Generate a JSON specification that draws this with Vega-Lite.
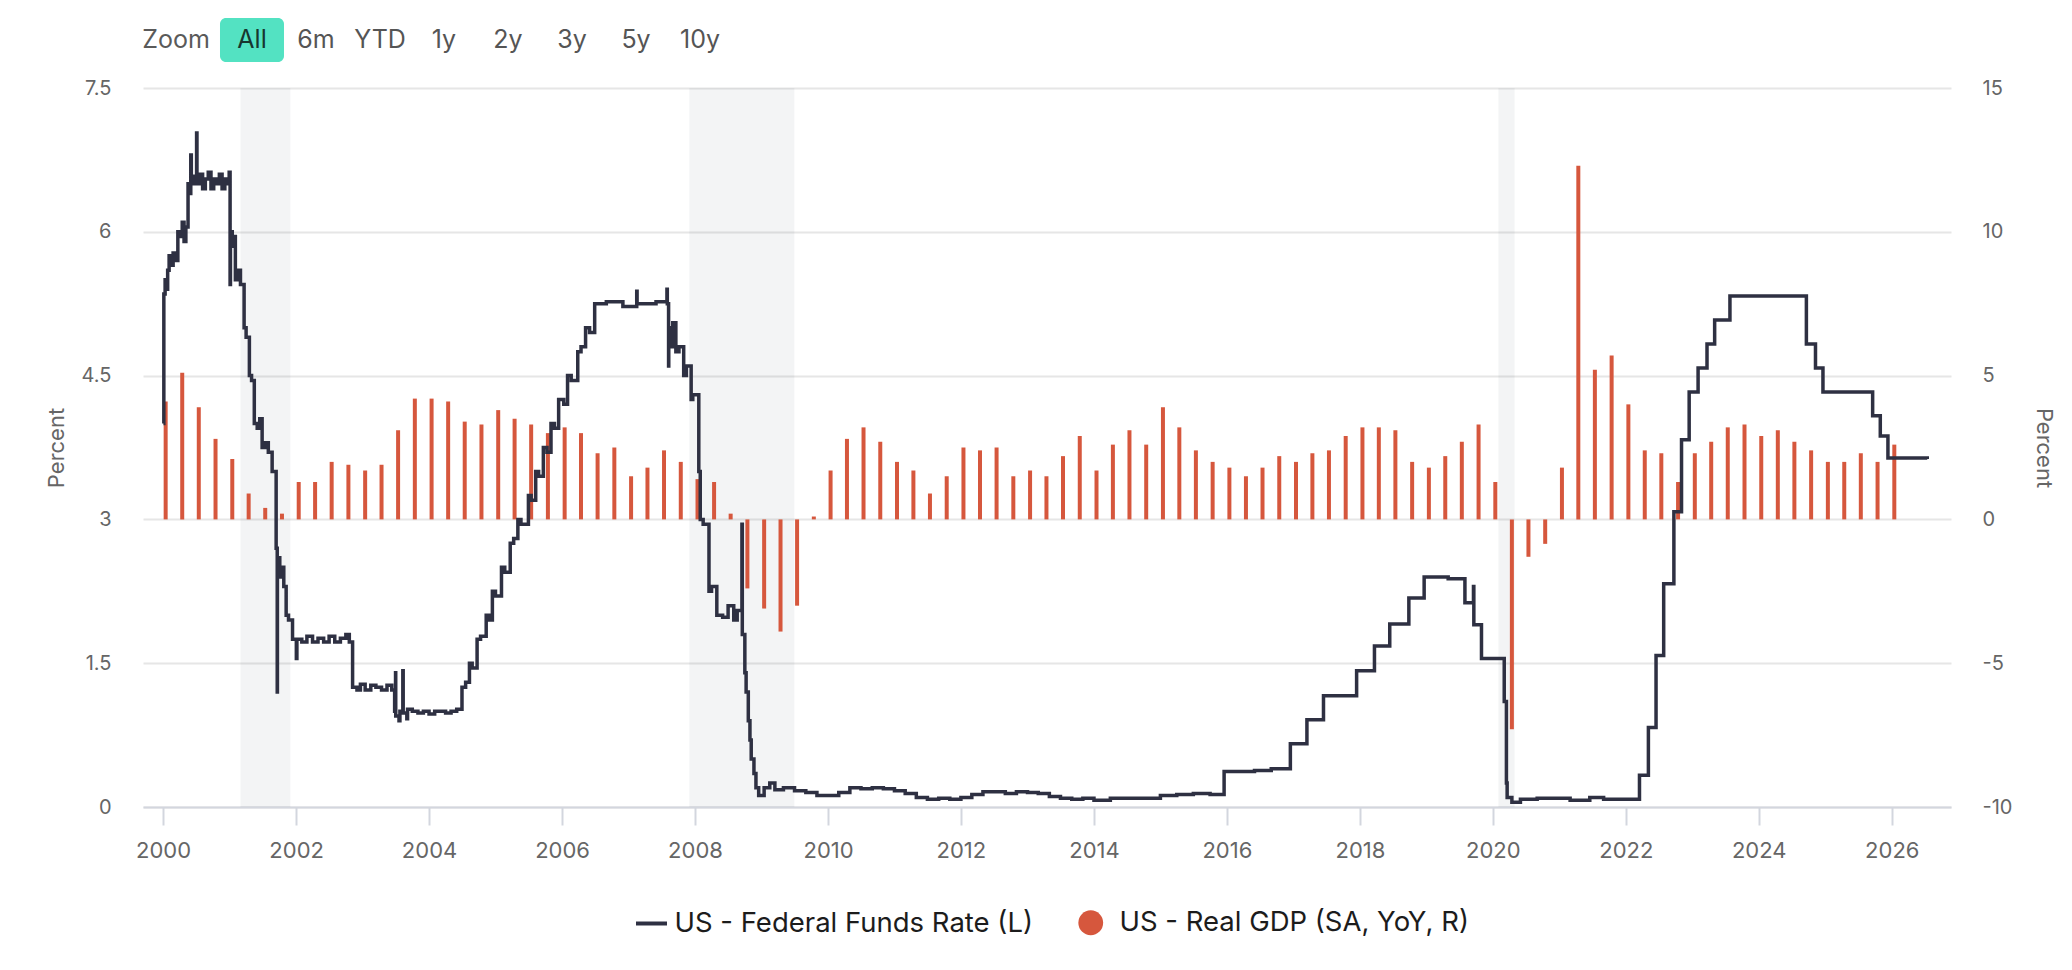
{
  "$schema": "https://vega.github.io/schema/vega-lite/v6.json",
  "padding": {"left": 45, "top": 18, "right": 10, "bottom": 5},
  "bounds": "flush",
  "spacing": 26,
  "resolve": {"scale": {"color": "independent", "fill": "independent", "stroke": "independent"}},
  "config": {
    "font": "Inter",
    "view": {"stroke": null},
    "axis": {"labelColor": "#666666", "titleColor": "#666666", "titleFontWeight": "normal", "labelFont": "Inter", "titleFont": "Inter"},
    "legend": {"labelFont": "Inter", "labelFontSize": 27.5, "labelColor": "#1c1c1c", "labelLimit": 600, "labelOffset": 15, "symbolSize": 615, "title": null}
  },
  "vconcat": [
    {
      "width": 602,
      "height": 44,
      "data": {
        "values": [
          {"label": "Zoom"}, {"label": "All"}, {"label": "6m"}, {"label": "YTD"},
          {"label": "1y"}, {"label": "2y"}, {"label": "3y"}, {"label": "5y"}, {"label": "10y"}
        ]
      },
      "encoding": {
        "x": {
          "field": "label",
          "type": "nominal",
          "sort": null,
          "scale": {"domain": ["Zoom", "All", "6m", "YTD", "1y", "2y", "3y", "5y", "10y"], "paddingInner": 0, "paddingOuter": 0.203},
          "axis": null
        }
      },
      "layer": [
        {
          "transform": [{"filter": "datum.label === 'All'"}],
          "mark": {"type": "rect", "color": "#53e2c2", "cornerRadius": 6}
        },
        {
          "transform": [{"filter": "datum.label === 'Zoom'"}],
          "mark": {"type": "text", "fontSize": 25, "font": "Inter", "dx": -12, "color": "#5a5a5a"},
          "encoding": {"text": {"field": "label"}}
        },
        {
          "transform": [{"filter": "datum.label !== 'Zoom'"}],
          "mark": {"type": "text", "fontSize": 25, "font": "Inter"},
          "encoding": {
            "text": {"field": "label"},
            "color": {"condition": {"test": "datum.label === 'All'", "value": "#17362f"}, "value": "#555555"}
          }
        }
      ]
    },
    {
      "width": 1808,
      "height": 719,
      "layer": [
        {
          "data": {
            "values": [
              {"start": "2001-03-01", "end": "2001-11-30"},
              {"start": "2007-12-01", "end": "2009-06-30"},
              {"start": "2020-02-01", "end": "2020-04-30"}
            ]
          },
          "mark": {"type": "rect", "color": "#1a2040", "opacity": 0.05},
          "encoding": {
            "x": {
              "field": "start",
              "type": "temporal",
              "scale": {"domain": ["1999-10-10", "2026-10-26"]},
              "axis": {
                "format": "%Y",
                "tickCount": {"interval": "year", "step": 2},
                "grid": false,
                "title": null,
                "domainColor": "#d3d6de",
                "domainWidth": 2,
                "tickColor": "#d3d6de",
                "tickWidth": 2,
                "tickSize": 18,
                "labelPadding": 15,
                "labelFontSize": 22,
                "labelFlush": false,
                "labelOverlap": false
              }
            },
            "x2": {"field": "end"}
          }
        },
        {
          "data": {
            "values": [
              {"date": "2000-01-15", "gdp": 4.1}, {"date": "2000-04-15", "gdp": 5.1}, {"date": "2000-07-15", "gdp": 3.9}, {"date": "2000-10-15", "gdp": 2.8},
              {"date": "2001-01-15", "gdp": 2.1}, {"date": "2001-04-15", "gdp": 0.9}, {"date": "2001-07-15", "gdp": 0.4}, {"date": "2001-10-15", "gdp": 0.2},
              {"date": "2002-01-15", "gdp": 1.3}, {"date": "2002-04-15", "gdp": 1.3}, {"date": "2002-07-15", "gdp": 2.0}, {"date": "2002-10-15", "gdp": 1.9},
              {"date": "2003-01-15", "gdp": 1.7}, {"date": "2003-04-15", "gdp": 1.9}, {"date": "2003-07-15", "gdp": 3.1}, {"date": "2003-10-15", "gdp": 4.2},
              {"date": "2004-01-15", "gdp": 4.2}, {"date": "2004-04-15", "gdp": 4.1}, {"date": "2004-07-15", "gdp": 3.4}, {"date": "2004-10-15", "gdp": 3.3},
              {"date": "2005-01-15", "gdp": 3.8}, {"date": "2005-04-15", "gdp": 3.5}, {"date": "2005-07-15", "gdp": 3.3}, {"date": "2005-10-15", "gdp": 3.0},
              {"date": "2006-01-15", "gdp": 3.2}, {"date": "2006-04-15", "gdp": 3.0}, {"date": "2006-07-15", "gdp": 2.3}, {"date": "2006-10-15", "gdp": 2.5},
              {"date": "2007-01-15", "gdp": 1.5}, {"date": "2007-04-15", "gdp": 1.8}, {"date": "2007-07-15", "gdp": 2.4}, {"date": "2007-10-15", "gdp": 2.0},
              {"date": "2008-01-15", "gdp": 1.4}, {"date": "2008-04-15", "gdp": 1.3}, {"date": "2008-07-15", "gdp": 0.2}, {"date": "2008-10-15", "gdp": -2.4},
              {"date": "2009-01-15", "gdp": -3.1}, {"date": "2009-04-15", "gdp": -3.9}, {"date": "2009-07-15", "gdp": -3.0}, {"date": "2009-10-15", "gdp": 0.1},
              {"date": "2010-01-15", "gdp": 1.7}, {"date": "2010-04-15", "gdp": 2.8}, {"date": "2010-07-15", "gdp": 3.2}, {"date": "2010-10-15", "gdp": 2.7},
              {"date": "2011-01-15", "gdp": 2.0}, {"date": "2011-04-15", "gdp": 1.7}, {"date": "2011-07-15", "gdp": 0.9}, {"date": "2011-10-15", "gdp": 1.5},
              {"date": "2012-01-15", "gdp": 2.5}, {"date": "2012-04-15", "gdp": 2.4}, {"date": "2012-07-15", "gdp": 2.5}, {"date": "2012-10-15", "gdp": 1.5},
              {"date": "2013-01-15", "gdp": 1.7}, {"date": "2013-04-15", "gdp": 1.5}, {"date": "2013-07-15", "gdp": 2.2}, {"date": "2013-10-15", "gdp": 2.9},
              {"date": "2014-01-15", "gdp": 1.7}, {"date": "2014-04-15", "gdp": 2.6}, {"date": "2014-07-15", "gdp": 3.1}, {"date": "2014-10-15", "gdp": 2.6},
              {"date": "2015-01-15", "gdp": 3.9}, {"date": "2015-04-15", "gdp": 3.2}, {"date": "2015-07-15", "gdp": 2.4}, {"date": "2015-10-15", "gdp": 2.0},
              {"date": "2016-01-15", "gdp": 1.8}, {"date": "2016-04-15", "gdp": 1.5}, {"date": "2016-07-15", "gdp": 1.8}, {"date": "2016-10-15", "gdp": 2.2},
              {"date": "2017-01-15", "gdp": 2.0}, {"date": "2017-04-15", "gdp": 2.3}, {"date": "2017-07-15", "gdp": 2.4}, {"date": "2017-10-15", "gdp": 2.9},
              {"date": "2018-01-15", "gdp": 3.2}, {"date": "2018-04-15", "gdp": 3.2}, {"date": "2018-07-15", "gdp": 3.1}, {"date": "2018-10-15", "gdp": 2.0},
              {"date": "2019-01-15", "gdp": 1.8}, {"date": "2019-04-15", "gdp": 2.2}, {"date": "2019-07-15", "gdp": 2.7}, {"date": "2019-10-15", "gdp": 3.3},
              {"date": "2020-01-15", "gdp": 1.3}, {"date": "2020-04-15", "gdp": -7.3}, {"date": "2020-07-15", "gdp": -1.3}, {"date": "2020-10-15", "gdp": -0.85},
              {"date": "2021-01-15", "gdp": 1.8}, {"date": "2021-04-15", "gdp": 12.3}, {"date": "2021-07-15", "gdp": 5.2}, {"date": "2021-10-15", "gdp": 5.7},
              {"date": "2022-01-15", "gdp": 4.0}, {"date": "2022-04-15", "gdp": 2.4}, {"date": "2022-07-15", "gdp": 2.3}, {"date": "2022-10-15", "gdp": 1.3},
              {"date": "2023-01-15", "gdp": 2.3}, {"date": "2023-04-15", "gdp": 2.7}, {"date": "2023-07-15", "gdp": 3.2}, {"date": "2023-10-15", "gdp": 3.3},
              {"date": "2024-01-15", "gdp": 2.9}, {"date": "2024-04-15", "gdp": 3.1}, {"date": "2024-07-15", "gdp": 2.7}, {"date": "2024-10-15", "gdp": 2.4},
              {"date": "2025-01-15", "gdp": 2.0}, {"date": "2025-04-15", "gdp": 2.0}, {"date": "2025-07-15", "gdp": 2.3}, {"date": "2025-10-15", "gdp": 2.0},
              {"date": "2026-01-15", "gdp": 2.6}
            ]
          },
          "mark": {"type": "bar", "width": 4},
          "encoding": {
            "x": {"field": "date", "type": "temporal"},
            "y": {
              "field": "gdp",
              "type": "quantitative",
              "scale": {"domain": [-10, 15], "nice": false},
              "axis": {
                "orient": "right",
                "values": [-10, -5, 0, 5, 10, 15],
                "labelExpr": "'' + datum.value",
                "title": "Percent",
                "grid": false,
                "domain": false,
                "ticks": false,
                "tickSize": 0,
                "labelPadding": 31,
                "labelFontSize": 20,
                "titleFontSize": 22,
                "minExtent": 60,
                "maxExtent": 60,
                "titlePadding": 20
              }
            },
            "fill": {
              "datum": "US - Real GDP (SA, YoY, R)",
              "scale": {"range": ["#d6573d"]},
              "legend": {
                "orient": "none",
                "legendX": 934,
                "legendY": 821,
                "symbolType": "circle",
                "symbolFillColor": "#e5573b"
              }
            }
          }
        },
        {
          "data": {
            "values": [
              {"date": "2000-01-03", "rate": 4.0}, {"date": "2000-01-05", "rate": 5.35}, {"date": "2000-01-12", "rate": 5.5}, {"date": "2000-01-19", "rate": 5.4},
              {"date": "2000-01-26", "rate": 5.6}, {"date": "2000-02-03", "rate": 5.75}, {"date": "2000-02-15", "rate": 5.65}, {"date": "2000-02-25", "rate": 5.78},
              {"date": "2000-03-10", "rate": 5.7}, {"date": "2000-03-22", "rate": 6.0}, {"date": "2000-04-05", "rate": 5.95}, {"date": "2000-04-15", "rate": 6.1},
              {"date": "2000-04-25", "rate": 5.9}, {"date": "2000-05-05", "rate": 6.05}, {"date": "2000-05-17", "rate": 6.5}, {"date": "2000-05-25", "rate": 6.4},
              {"date": "2000-06-01", "rate": 6.8}, {"date": "2000-06-04", "rate": 6.5}, {"date": "2000-06-20", "rate": 6.58}, {"date": "2000-07-03", "rate": 7.03},
              {"date": "2000-07-05", "rate": 6.5}, {"date": "2000-07-20", "rate": 6.6}, {"date": "2000-08-05", "rate": 6.45}, {"date": "2000-08-20", "rate": 6.55},
              {"date": "2000-09-05", "rate": 6.62}, {"date": "2000-09-20", "rate": 6.45}, {"date": "2000-10-05", "rate": 6.55}, {"date": "2000-10-20", "rate": 6.5},
              {"date": "2000-11-05", "rate": 6.6}, {"date": "2000-11-20", "rate": 6.45}, {"date": "2000-12-05", "rate": 6.55}, {"date": "2000-12-20", "rate": 6.5},
              {"date": "2000-12-29", "rate": 6.62}, {"date": "2001-01-03", "rate": 5.45}, {"date": "2001-01-05", "rate": 6.0}, {"date": "2001-01-15", "rate": 5.85},
              {"date": "2001-01-25", "rate": 5.95}, {"date": "2001-02-01", "rate": 5.5}, {"date": "2001-02-15", "rate": 5.6}, {"date": "2001-03-01", "rate": 5.45},
              {"date": "2001-03-21", "rate": 5.0}, {"date": "2001-04-01", "rate": 4.9}, {"date": "2001-04-19", "rate": 4.5}, {"date": "2001-05-01", "rate": 4.45},
              {"date": "2001-05-16", "rate": 4.0}, {"date": "2001-06-01", "rate": 3.95}, {"date": "2001-06-15", "rate": 4.05}, {"date": "2001-06-28", "rate": 3.75},
              {"date": "2001-07-15", "rate": 3.8}, {"date": "2001-08-01", "rate": 3.7}, {"date": "2001-08-22", "rate": 3.5}, {"date": "2001-09-13", "rate": 2.7},
              {"date": "2001-09-19", "rate": 1.2}, {"date": "2001-09-20", "rate": 2.6}, {"date": "2001-10-03", "rate": 2.4}, {"date": "2001-10-15", "rate": 2.5},
              {"date": "2001-10-25", "rate": 2.3}, {"date": "2001-11-07", "rate": 2.0}, {"date": "2001-11-20", "rate": 1.95}, {"date": "2001-12-12", "rate": 1.75},
              {"date": "2002-01-02", "rate": 1.55}, {"date": "2002-01-05", "rate": 1.75}, {"date": "2002-02-01", "rate": 1.72}, {"date": "2002-03-01", "rate": 1.78},
              {"date": "2002-04-01", "rate": 1.72}, {"date": "2002-05-01", "rate": 1.76}, {"date": "2002-06-01", "rate": 1.72}, {"date": "2002-07-01", "rate": 1.78},
              {"date": "2002-08-01", "rate": 1.72}, {"date": "2002-09-01", "rate": 1.76}, {"date": "2002-10-01", "rate": 1.8}, {"date": "2002-10-20", "rate": 1.72},
              {"date": "2002-11-07", "rate": 1.25}, {"date": "2002-12-01", "rate": 1.22}, {"date": "2002-12-20", "rate": 1.28}, {"date": "2003-01-15", "rate": 1.22},
              {"date": "2003-02-15", "rate": 1.27}, {"date": "2003-03-15", "rate": 1.25}, {"date": "2003-04-15", "rate": 1.22}, {"date": "2003-05-15", "rate": 1.27},
              {"date": "2003-06-10", "rate": 1.22}, {"date": "2003-06-26", "rate": 1.0}, {"date": "2003-07-01", "rate": 1.4}, {"date": "2003-07-02", "rate": 0.95},
              {"date": "2003-07-20", "rate": 0.9}, {"date": "2003-07-25", "rate": 1.0}, {"date": "2003-08-10", "rate": 1.42}, {"date": "2003-08-12", "rate": 0.98},
              {"date": "2003-09-01", "rate": 0.92}, {"date": "2003-09-05", "rate": 1.02}, {"date": "2003-10-01", "rate": 1.0}, {"date": "2003-11-01", "rate": 0.98},
              {"date": "2003-12-01", "rate": 1.0}, {"date": "2004-01-01", "rate": 0.97}, {"date": "2004-02-01", "rate": 1.0}, {"date": "2004-03-01", "rate": 1.0},
              {"date": "2004-04-01", "rate": 0.98}, {"date": "2004-05-01", "rate": 1.0}, {"date": "2004-06-01", "rate": 1.02}, {"date": "2004-06-30", "rate": 1.25},
              {"date": "2004-07-20", "rate": 1.3}, {"date": "2004-08-10", "rate": 1.5}, {"date": "2004-08-25", "rate": 1.45}, {"date": "2004-09-21", "rate": 1.75},
              {"date": "2004-10-10", "rate": 1.78}, {"date": "2004-11-10", "rate": 2.0}, {"date": "2004-11-25", "rate": 1.95}, {"date": "2004-12-14", "rate": 2.25},
              {"date": "2004-12-31", "rate": 2.2}, {"date": "2005-02-02", "rate": 2.5}, {"date": "2005-02-20", "rate": 2.45}, {"date": "2005-03-22", "rate": 2.75},
              {"date": "2005-04-10", "rate": 2.8}, {"date": "2005-05-03", "rate": 3.0}, {"date": "2005-05-20", "rate": 2.95}, {"date": "2005-06-30", "rate": 3.25},
              {"date": "2005-07-15", "rate": 3.2}, {"date": "2005-08-09", "rate": 3.5}, {"date": "2005-08-25", "rate": 3.45}, {"date": "2005-09-20", "rate": 3.75},
              {"date": "2005-10-10", "rate": 3.7}, {"date": "2005-11-01", "rate": 4.0}, {"date": "2005-11-20", "rate": 3.95}, {"date": "2005-12-13", "rate": 4.25},
              {"date": "2006-01-10", "rate": 4.2}, {"date": "2006-01-31", "rate": 4.5}, {"date": "2006-02-20", "rate": 4.45}, {"date": "2006-03-28", "rate": 4.75},
              {"date": "2006-04-15", "rate": 4.8}, {"date": "2006-05-10", "rate": 5.0}, {"date": "2006-06-01", "rate": 4.95}, {"date": "2006-06-29", "rate": 5.25},
              {"date": "2006-09-01", "rate": 5.27}, {"date": "2006-12-01", "rate": 5.22}, {"date": "2007-02-15", "rate": 5.38}, {"date": "2007-02-17", "rate": 5.25},
              {"date": "2007-06-01", "rate": 5.27}, {"date": "2007-07-31", "rate": 5.4}, {"date": "2007-08-02", "rate": 5.25}, {"date": "2007-08-09", "rate": 4.6},
              {"date": "2007-08-10", "rate": 5.0}, {"date": "2007-08-20", "rate": 4.8}, {"date": "2007-09-01", "rate": 5.05}, {"date": "2007-09-18", "rate": 4.75},
              {"date": "2007-10-05", "rate": 4.8}, {"date": "2007-10-31", "rate": 4.5}, {"date": "2007-11-15", "rate": 4.6}, {"date": "2007-12-11", "rate": 4.25},
              {"date": "2007-12-20", "rate": 4.3}, {"date": "2008-01-22", "rate": 3.5}, {"date": "2008-01-30", "rate": 3.0}, {"date": "2008-02-15", "rate": 2.95},
              {"date": "2008-03-18", "rate": 2.25}, {"date": "2008-04-01", "rate": 2.3}, {"date": "2008-04-30", "rate": 2.0}, {"date": "2008-06-01", "rate": 1.98},
              {"date": "2008-07-01", "rate": 2.1}, {"date": "2008-08-01", "rate": 1.95}, {"date": "2008-08-20", "rate": 2.05}, {"date": "2008-09-15", "rate": 2.95},
              {"date": "2008-09-17", "rate": 1.8}, {"date": "2008-10-01", "rate": 1.4}, {"date": "2008-10-08", "rate": 1.2}, {"date": "2008-10-20", "rate": 0.9},
              {"date": "2008-10-29", "rate": 0.7}, {"date": "2008-11-05", "rate": 0.5}, {"date": "2008-11-20", "rate": 0.35}, {"date": "2008-12-01", "rate": 0.2},
              {"date": "2008-12-16", "rate": 0.12}, {"date": "2009-01-15", "rate": 0.2}, {"date": "2009-02-15", "rate": 0.25}, {"date": "2009-03-15", "rate": 0.18},
              {"date": "2009-05-01", "rate": 0.2}, {"date": "2009-07-01", "rate": 0.17}, {"date": "2009-09-01", "rate": 0.15}, {"date": "2009-11-01", "rate": 0.12},
              {"date": "2010-01-01", "rate": 0.12}, {"date": "2010-03-01", "rate": 0.15}, {"date": "2010-05-01", "rate": 0.2}, {"date": "2010-07-01", "rate": 0.19},
              {"date": "2010-09-01", "rate": 0.2}, {"date": "2010-11-01", "rate": 0.19}, {"date": "2011-01-01", "rate": 0.17}, {"date": "2011-03-01", "rate": 0.14},
              {"date": "2011-05-01", "rate": 0.1}, {"date": "2011-07-01", "rate": 0.08}, {"date": "2011-09-01", "rate": 0.09}, {"date": "2011-11-01", "rate": 0.08},
              {"date": "2012-01-01", "rate": 0.1}, {"date": "2012-03-01", "rate": 0.13}, {"date": "2012-05-01", "rate": 0.16}, {"date": "2012-07-01", "rate": 0.16},
              {"date": "2012-09-01", "rate": 0.14}, {"date": "2012-11-01", "rate": 0.16}, {"date": "2013-01-01", "rate": 0.15}, {"date": "2013-03-01", "rate": 0.14},
              {"date": "2013-05-01", "rate": 0.11}, {"date": "2013-07-01", "rate": 0.09}, {"date": "2013-09-01", "rate": 0.08}, {"date": "2013-11-01", "rate": 0.09},
              {"date": "2014-01-01", "rate": 0.07}, {"date": "2014-04-01", "rate": 0.09}, {"date": "2014-07-01", "rate": 0.09}, {"date": "2014-10-01", "rate": 0.09},
              {"date": "2015-01-01", "rate": 0.12}, {"date": "2015-04-01", "rate": 0.13}, {"date": "2015-07-01", "rate": 0.14}, {"date": "2015-10-01", "rate": 0.13},
              {"date": "2015-12-17", "rate": 0.37}, {"date": "2016-03-01", "rate": 0.37}, {"date": "2016-06-01", "rate": 0.38}, {"date": "2016-09-01", "rate": 0.4},
              {"date": "2016-12-15", "rate": 0.66}, {"date": "2017-03-16", "rate": 0.91}, {"date": "2017-06-15", "rate": 1.16}, {"date": "2017-12-14", "rate": 1.42},
              {"date": "2018-03-22", "rate": 1.68}, {"date": "2018-06-14", "rate": 1.91}, {"date": "2018-09-27", "rate": 2.18}, {"date": "2018-12-20", "rate": 2.4},
              {"date": "2019-05-01", "rate": 2.38}, {"date": "2019-08-01", "rate": 2.13}, {"date": "2019-09-17", "rate": 2.3}, {"date": "2019-09-19", "rate": 1.9},
              {"date": "2019-10-31", "rate": 1.55}, {"date": "2020-03-04", "rate": 1.1}, {"date": "2020-03-16", "rate": 0.25}, {"date": "2020-03-20", "rate": 0.1},
              {"date": "2020-04-15", "rate": 0.05}, {"date": "2020-06-01", "rate": 0.08}, {"date": "2020-09-01", "rate": 0.09}, {"date": "2021-01-01", "rate": 0.09},
              {"date": "2021-03-01", "rate": 0.07}, {"date": "2021-06-17", "rate": 0.1}, {"date": "2021-09-01", "rate": 0.08}, {"date": "2022-01-01", "rate": 0.08},
              {"date": "2022-03-17", "rate": 0.33}, {"date": "2022-05-05", "rate": 0.83}, {"date": "2022-06-16", "rate": 1.58}, {"date": "2022-07-28", "rate": 2.33},
              {"date": "2022-09-22", "rate": 3.08}, {"date": "2022-11-03", "rate": 3.83}, {"date": "2022-12-15", "rate": 4.33}, {"date": "2023-02-02", "rate": 4.58},
              {"date": "2023-03-23", "rate": 4.83}, {"date": "2023-05-04", "rate": 5.08}, {"date": "2023-07-27", "rate": 5.33}, {"date": "2024-09-19", "rate": 4.83},
              {"date": "2024-11-08", "rate": 4.58}, {"date": "2024-12-19", "rate": 4.33}, {"date": "2025-09-18", "rate": 4.08}, {"date": "2025-10-30", "rate": 3.87},
              {"date": "2025-12-11", "rate": 3.64}, {"date": "2026-07-15", "rate": 3.63}
            ]
          },
          "mark": {"type": "line", "interpolate": "step-after", "strokeWidth": 3.5},
          "encoding": {
            "x": {"field": "date", "type": "temporal"},
            "y": {
              "field": "rate",
              "type": "quantitative",
              "scale": {"domain": [0, 7.5], "nice": false, "zero": false},
              "axis": {
                "orient": "left",
                "values": [0, 1.5, 3, 4.5, 6, 7.5],
                "labelExpr": "'' + datum.value",
                "title": "Percent",
                "grid": true,
                "gridColor": "#e6e6e6",
                "gridWidth": 2,
                "domain": false,
                "ticks": false,
                "tickSize": 0,
                "labelPadding": 32,
                "labelFontSize": 20,
                "titleFontSize": 22,
                "minExtent": 60,
                "maxExtent": 60,
                "titlePadding": 15
              }
            },
            "stroke": {
              "datum": "US - Federal Funds Rate (L)",
              "scale": {"range": ["#2e3042"]},
              "legend": {
                "orient": "none",
                "legendX": 494,
                "legendY": 821,
                "labelOffset": 8.5,
                "symbolType": "M-1.25,0H1.25",
                "symbolStrokeWidth": 4
              }
            }
          }
        }
      ],
      "resolve": {"scale": {"y": "independent"}}
    }
  ]
}
